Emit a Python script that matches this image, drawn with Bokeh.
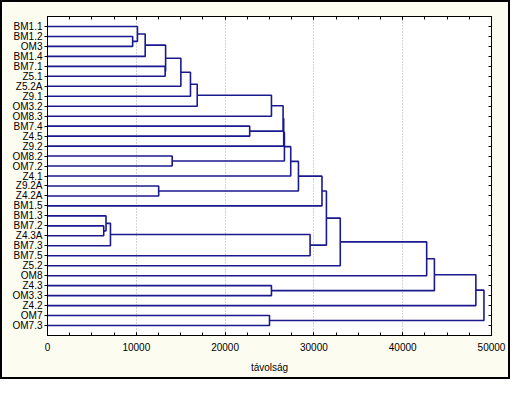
from bokeh.plotting import figure
from bokeh.models import Range1d, FixedTicker, LinearAxis, ColumnDataSource
from bokeh.embed import file_html
from bokeh.resources import INLINE

# ---- data -------------------------------------------------------------
leaves = ["BM1.1", "BM1.2", "OM3", "BM1.4", "BM7.1", "Z5.1", "Z5.2A", "Z9.1",
          "OM3.2", "OM8.3", "BM7.4", "Z4.5", "Z9.2", "OM8.2", "OM7.2", "Z4.1",
          "Z9.2A", "Z4.2A", "BM1.5", "BM1.3", "BM7.2", "Z4.3A", "BM7.3", "BM7.5",
          "Z5.2", "OM8", "Z4.3", "OM3.3", "Z4.2", "OM7", "OM7.3"]

# merge k creates node "c{k+1}"
merge_a = ["BM1.2", "BM1.1", "c2", "BM7.1", "c3", "c5", "c6", "c7", "c8", "BM7.4",
           "c9", "c11", "OM8.2", "c12", "c14", "Z9.2A", "c15", "c17", "BM7.2", "BM1.3",
           "c20", "c21", "c18", "c23", "c24", "Z4.3", "c25", "c27", "OM7", "c28"]
merge_b = ["OM3", "c1", "BM1.4", "Z5.1", "c4", "Z5.2A", "Z9.1", "OM3.2", "OM8.3", "Z4.5",
           "c10", "Z9.2", "OM7.2", "c13", "Z4.1", "Z4.2A", "c16", "BM1.5", "Z4.3A", "c19",
           "BM7.3", "BM7.5", "c22", "Z5.2", "OM8", "OM3.3", "c26", "Z4.2", "OM7.3", "c29"]
merge_dist = [9590, 10130, 11000, 13250, 13300, 15020, 16100, 16860, 25220, 22770,
              26530, 26600, 14040, 26680, 27390, 12520, 28260, 30910, 6330, 6590,
              7090, 29570, 31410, 32970, 42700, 25220, 43570, 48240, 25000, 49150]

x_ticks = [0, 10000, 20000, 30000, 40000, 50000]
x_minor = [0, 2500, 5000, 7500, 10000, 12500, 15000, 17500, 20000, 22500, 25000,
           27500, 30000, 32500, 35000, 37500, 40000, 42500, 45000, 47500, 50000]
x_grid = [10000, 20000, 30000, 40000]
x_title = "távolság"

# ---- dendrogram geometry (computed from the linkage) ------------------
pos = {name: float(i) for i, name in enumerate(leaves)}
hgt = {name: 0.0 for name in leaves}
xs, ys = [], []
for k, (a, b, d) in enumerate(zip(merge_a, merge_b, merge_dist)):
    xs.append([hgt[a], d, d, hgt[b]])
    ys.append([pos[a], pos[a], pos[b], pos[b]])
    node = "c%d" % (k + 1)
    pos[node] = (pos[a] + pos[b]) / 2.0
    hgt[node] = float(d)

src = ColumnDataSource(dict(xs=xs, ys=ys))

FONT = "Liberation Sans"
n = len(leaves)

p = figure(width=510, height=379,
           x_range=Range1d(0, 50000), y_range=Range1d(n, -1),
           output_backend="svg", toolbar_location=None,
           min_border_left=45, min_border_right=21,
           min_border_top=14, min_border_bottom=46)

p.background_fill_color = "white"
p.border_fill_color = "#FDFCF0"
p.outline_line_color = "black"
p.outline_line_width = 1
p.styles = {"border": "2px solid black"}

# grid
p.ygrid.visible = False
p.xgrid.ticker = FixedTicker(ticks=x_grid)
p.xgrid.grid_line_color = "#A8A8A8"
p.xgrid.grid_line_dash = "1 2"
p.xgrid.grid_line_width = 1

# bottom axis
xa = p.xaxis[0]
xa.ticker = FixedTicker(ticks=x_ticks, minor_ticks=x_minor)
xa.major_tick_in = 3
xa.major_tick_out = 0
xa.minor_tick_in = 3
xa.minor_tick_out = 0
xa.axis_line_color = "black"
xa.major_tick_line_color = "black"
xa.minor_tick_line_color = "black"
xa.major_label_text_font = FONT
xa.major_label_text_font_size = "10px"
xa.major_label_text_color = "black"
xa.major_label_standoff = 7
xa.axis_label = x_title
xa.axis_label_text_font = FONT
xa.axis_label_text_font_size = "10px"
xa.axis_label_text_font_style = "normal"
xa.axis_label_text_color = "black"
xa.axis_label_standoff = 8

# left axis (leaf labels)
ya = p.yaxis[0]
ya.ticker = FixedTicker(ticks=list(range(n)))
ya.major_label_overrides = {i: name for i, name in enumerate(leaves)}
ya.major_tick_out = 3
ya.major_tick_in = 0
ya.minor_tick_line_color = None
ya.axis_line_color = "black"
ya.major_tick_line_color = "black"
ya.major_label_text_font = FONT
ya.major_label_text_font_size = "10px"
ya.major_label_text_color = "black"
ya.major_label_standoff = 2

# top axis (ticks only, labels not drawn)
top = LinearAxis(ticker=FixedTicker(ticks=x_ticks, minor_ticks=x_minor),
                 major_label_text_color=None, major_label_text_font_size="1px",
                 major_label_standoff=0,
                 major_tick_in=3, major_tick_out=0,
                 minor_tick_in=3, minor_tick_out=0,
                 axis_line_color="black")
p.add_layout(top, "above")

# right axis (ticks only, labels not drawn)
right = LinearAxis(ticker=FixedTicker(ticks=list(range(n))),
                   major_label_text_color=None, major_label_text_font_size="1px",
                   major_label_standoff=0,
                   major_tick_in=3, major_tick_out=0,
                   minor_tick_line_color=None,
                   axis_line_color="black")
p.add_layout(right, "right")

p.multi_line(xs="xs", ys="ys", source=src, line_color="#1A1A8E", line_width=1.6)

open("out.html", "w").write(file_html(p, INLINE))
